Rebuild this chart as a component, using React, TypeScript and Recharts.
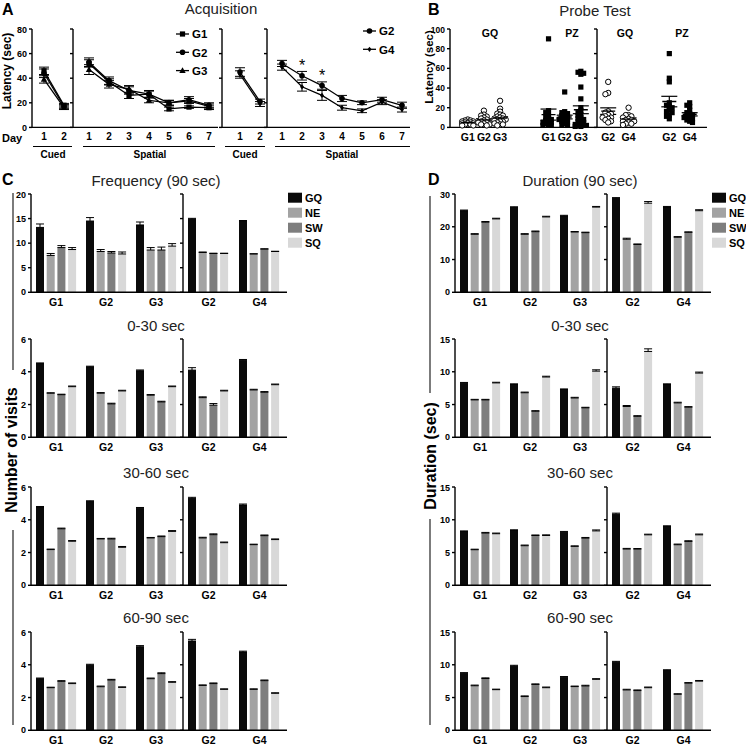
import React from 'react';
import {
  LineChart, Line, BarChart, Bar, ScatterChart, Scatter,
  XAxis, YAxis, ErrorBar, LabelList,
} from 'recharts';

const FONT = '"Liberation Sans", Arial, Helvetica, sans-serif';

// ---------- A: acquisition latency ----------
const cuedDays = [1, 2];
const spatialDays = [1, 2, 3, 4, 5, 6, 7];

const cuedG1 = [46, 18];
const cuedG1Err = [3, 1.5];
const cuedG2 = [44, 17];
const cuedG2Err = [3.5, 1.5];
const cuedG3 = [39, 16];
const cuedG3Err = [3, 1.5];

const spatialG1 = [52, 37, 26, 27, 15, 16.5, 16];
const spatialG1Err = [3, 2.5, 2.5, 2.5, 1.5, 1, 1.5];
const spatialG2 = [53, 38, 30, 27, 20, 22.5, 18];
const spatialG2Err = [3.5, 3, 3, 3, 2, 2.5, 2];
const spatialG3 = [47, 35, 31, 22, 20, 21.5, 17];
const spatialG3Err = [4, 3, 3, 2, 2, 2, 2];

const cuedG2b = [45, 21];
const cuedG2bErr = [3.5, 2];
const cuedG4 = [43, 19];
const cuedG4Err = [3, 2];

const spatialG2b = [52, 42, 34, 23.5, 20, 22.5, 18];
const spatialG2bErr = [2.5, 3.5, 3, 2.5, 1.5, 2, 2.5];
const spatialG4 = [49, 33, 26, 16, 13.5, 20.5, 14.5];
const spatialG4Err = [2.5, 3.5, 4, 2, 1.5, 2, 2];
const spatialSig = ['', '*', '*', '', '', '', ''];

// ---------- B: probe test latency ----------
const probeLeftLabels = ['G1', 'G2', 'G3', 'G1', 'G2', 'G3'];
const probeLeftSlots = [1, 2, 3, 6, 7, 8];
const probeRightLabels = ['G2', 'G4', 'G2', 'G4'];
const probeRightSlots = [1, 2, 4, 5];

const probeGqG1 = [8, 7, 7, 6, 6, 5, 5, 5, 4, 4, 4, 3, 3, 2, 2];
const probeGqG2 = [17, 13, 12, 11, 10, 9, 8, 7, 6, 5, 5, 4, 3, 3, 2];
const probeGqG3 = [27, 19, 16, 14, 13, 12, 11, 10, 9, 9, 8, 8, 7, 7, 6, 6, 5, 4, 3, 3, 2];
const probePzG1 = [90, 17, 15, 12, 10, 9, 8, 7, 6, 5, 5, 4, 3, 2, 2];
const probePzG2 = [36, 16, 15, 14, 13, 12, 11, 10, 9, 8, 8, 7, 6, 5, 4, 3, 2];
const probePzG3 = [57, 56, 55, 54, 41, 29, 20, 17, 15, 13, 12, 10, 9, 8, 7, 6, 5, 4, 3, 3, 2, 2, 1, 1];

const probeGqG2b = [37, 28, 27, 13, 12, 11, 10, 9, 8, 8, 7, 6, 5, 4];
const probeGqG4 = [16, 10, 10, 9, 8, 7, 6, 6, 5, 5, 4, 3, 3, 2];
const probePzG2b = [60, 40, 37, 20, 18, 17, 16, 14, 13, 12, 10, 9, 7];
const probePzG4 = [20, 18, 17, 14, 12, 11, 10, 9, 8, 8, 7, 6, 5, 4];

// ---------- C / D: zone visits and durations ----------
const ZONES = ['GQ', 'NE', 'SW', 'SQ'];
const ZONE_COLORS = ['#0a0a0a', '#a3a3a3', '#7e7e7e', '#d8d8d8'];
const leftGroups = ['G1', 'G2', 'G3'];
const rightGroups = ['G2', 'G4'];

// rows: GQ, NE, SW, SQ ; cols: G1 G2 G3 | G2 G4
const freq90 = [
  [13.2, 14.5, 13.7, 14.9, 14.5],
  [7.5, 8.3, 8.6, 8.1, 7.8],
  [9.1, 8.0, 8.6, 7.9, 8.8],
  [8.7, 7.8, 9.4, 7.9, 8.3],
];
const freq90Err = [
  [0.7, 0.7, 0.6, 0.15, 0.1],
  [0.4, 0.4, 0.5, 0.1, 0.05],
  [0.4, 0.3, 0.6, 0.05, 0.05],
  [0.4, 0.4, 0.5, 0.05, 0.05],
];
const freq0to30 = [
  [4.5, 4.3, 4.06, 4.1, 4.7],
  [2.69, 2.69, 2.57, 2.42, 2.89],
  [2.6, 2.04, 2.16, 1.96, 2.75],
  [3.09, 2.83, 3.09, 2.83, 3.21],
];
const freq0to30Err = [
  [0.04, 0.04, 0.05, 0.15, 0.05],
  [0.03, 0.04, 0.04, 0.05, 0.04],
  [0.03, 0.04, 0.04, 0.1, 0.04],
  [0.04, 0.04, 0.04, 0.04, 0.04],
];
const freq30to60 = [
  [4.75, 5.11, 4.71, 5.31, 4.9],
  [2.18, 2.83, 2.89, 2.89, 2.48],
  [3.45, 2.83, 2.97, 3.09, 3.03],
  [2.69, 2.32, 3.29, 2.6, 2.79],
];
const freq30to60Err = [
  [0.06, 0.05, 0.04, 0.06, 0.06],
  [0.03, 0.03, 0.03, 0.04, 0.03],
  [0.04, 0.04, 0.04, 0.05, 0.04],
  [0.04, 0.05, 0.05, 0.04, 0.04],
];
const freq60to90 = [
  [3.15, 3.98, 5.1, 5.45, 4.78],
  [2.6, 2.66, 3.15, 2.74, 2.5],
  [2.99, 3.07, 3.46, 2.85, 3.03],
  [2.85, 2.62, 2.93, 2.5, 2.26],
];
const freq60to90Err = [
  [0.04, 0.05, 0.07, 0.1, 0.05],
  [0.03, 0.04, 0.04, 0.03, 0.03],
  [0.04, 0.04, 0.05, 0.04, 0.04],
  [0.04, 0.03, 0.04, 0.03, 0.03],
];
const dur90 = [
  [24.9, 25.9, 23.3, 28.6, 26.0],
  [17.7, 17.7, 18.4, 16.2, 16.8],
  [21.4, 18.5, 18.2, 14.6, 18.3],
  [22.4, 23.0, 26.0, 27.2, 24.9],
];
const dur90Err = [
  [0.2, 0.2, 0.2, 0.3, 0.2],
  [0.2, 0.2, 0.15, 0.3, 0.2],
  [0.2, 0.2, 0.15, 0.15, 0.15],
  [0.2, 0.2, 0.2, 0.5, 0.3],
];
const dur0to30 = [
  [8.27, 8.06, 7.3, 7.5, 8.06],
  [5.71, 6.8, 6.0, 4.7, 5.25],
  [5.71, 3.98, 4.5, 3.2, 4.6],
  [8.3, 9.2, 10.1, 13.1, 9.8],
];
const dur0to30Err = [
  [0.1, 0.1, 0.08, 0.2, 0.1],
  [0.08, 0.1, 0.1, 0.15, 0.1],
  [0.08, 0.08, 0.08, 0.1, 0.08],
  [0.1, 0.12, 0.2, 0.4, 0.15],
];
const dur30to60 = [
  [8.2, 8.37, 8.12, 10.86, 8.98],
  [5.43, 6.04, 5.94, 5.53, 6.19],
  [7.97, 7.6, 7.2, 5.53, 6.7],
  [7.87, 7.6, 8.3, 7.7, 7.7],
];
const dur30to60Err = [
  [0.1, 0.1, 0.1, 0.15, 0.1],
  [0.08, 0.1, 0.08, 0.1, 0.1],
  [0.1, 0.08, 0.1, 0.08, 0.1],
  [0.1, 0.1, 0.15, 0.1, 0.12],
];
const dur60to90 = [
  [8.7, 9.8, 8.1, 10.4, 9.14],
  [6.8, 5.15, 6.67, 6.16, 5.5],
  [7.9, 7.0, 6.77, 6.06, 7.2],
  [6.2, 6.5, 7.78, 6.5, 7.5],
];
const dur60to90Err = [
  [0.1, 0.12, 0.1, 0.12, 0.1],
  [0.1, 0.1, 0.08, 0.1, 0.08],
  [0.1, 0.08, 0.1, 0.1, 0.08],
  [0.08, 0.1, 0.1, 0.1, 0.1],
];

// ---------- shared styling / layout helpers ----------
const AX = { stroke: '#000', strokeWidth: 1.4 };
const tickNum = { fontSize: 9, fontWeight: 700, fill: '#000', fontFamily: FONT };
const tickCat = { fontSize: 10.5, fontWeight: 700, fill: '#000', fontFamily: FONT };
const YW = 24;
const XH = 18;
const PAD = 4;
const blank = () => '';

function frame(x: number, y: number, w: number, h: number) {
  return {
    style: { position: 'absolute' as const, left: x - YW, top: y - PAD },
    size: {
      width: YW + w + PAD,
      height: PAD + h + XH,
      margin: { top: PAD, right: PAD, left: 0, bottom: 0 },
    },
  };
}

function Marker({ shape, cx, cy }: { shape: string; cx: number; cy: number }) {
  if (shape === 'square') return <rect x={cx - 2.6} y={cy - 2.6} width={5.2} height={5.2} fill="#000" />;
  if (shape === 'circle') return <circle cx={cx} cy={cy} r={2.8} fill="#000" />;
  if (shape === 'triangle')
    return <path d={`M${cx},${cy - 3.4}L${cx + 3.2},${cy + 2.3}L${cx - 3.2},${cy + 2.3}Z`} fill="#000" />;
  return <path d={`M${cx},${cy - 2.6}L${cx + 2},${cy}L${cx},${cy + 2.6}L${cx - 2},${cy}Z`} fill="#000" />;
}

const dotOf = (shape: string) => (p: any) => (
  <Marker key={`${shape}-${p.index}`} shape={shape} cx={p.cx} cy={p.cy} />
);

type Series = { key: string; vals: number[]; errs: number[]; shape: string; sig?: string[] };

function acqRows(days: number[], series: Series[]) {
  return days.map((d, i) => {
    const r: Record<string, unknown> = { day: d };
    series.forEach((s) => {
      r[s.key] = s.vals[i];
      r[s.key + 'e'] = s.errs[i];
      if (s.sig) r.sig = s.sig[i];
    });
    return r;
  });
}

function AcqChart({ x, w, days, domain, series, showY }: {
  x: number; w: number; days: number[]; domain: [number, number]; series: Series[]; showY?: boolean;
}) {
  const f = frame(x, 29.3, w, 98.4);
  const data = acqRows(days, series);
  return (
    <div style={f.style}>
      <LineChart {...f.size} data={data}>
        <XAxis dataKey="day" type="number" domain={domain} ticks={days} allowDataOverflow interval={0}
          tickLine={false} tickSize={4} axisLine={AX} tick={{ ...tickNum, fontSize: 10 }} height={XH} />
        <YAxis type="number" domain={[0, 80]} ticks={[0, 20, 40, 60, 80]} width={YW} axisLine={AX}
          tickLine={AX} tickSize={3} tick={tickNum} tickFormatter={showY ? undefined : blank} />
        {series.map((s) => (
          <Line key={s.key} dataKey={s.key} stroke="#000" strokeWidth={1.3} dot={dotOf(s.shape)}
            activeDot={false} isAnimationActive={false}>
            <ErrorBar dataKey={s.key + 'e'} width={5} stroke="#000" strokeWidth={1} />
            {s.sig && (
              <LabelList dataKey="sig" content={(p: any) => (p.value ? (
                <text x={p.x} y={p.y - 5} textAnchor="middle" fontSize={16} fontFamily={FONT} fill="#000">{p.value}</text>
              ) : null)} />
            )}
          </Line>
        ))}
      </LineChart>
    </div>
  );
}

// simple beeswarm: horizontal offsets (px) so that close values do not sit on top of each other
function swarm(vals: number[], pxPerUnit: number) {
  const placed: { y: number; dx: number }[] = [];
  const cand = [0, -2.8, 2.8, -5.6, 5.6];
  return vals.map((v, i) => {
    const y = v * pxPerUnit;
    const dx = cand.find((c) => placed.every((p) => Math.hypot(p.dx - c, p.y - y) >= 2.8))
      ?? cand[i % cand.length];
    placed.push({ y, dx });
    return dx;
  });
}

type ProbeCol = { slot: number; label: string; vals: number[]; kind: 'GQ' | 'PZ' };

function ProbeChart({ x, w, cols, domain, yMax, yTicks, pxPerUnit, showY }: {
  x: number; w: number; cols: ProbeCol[]; domain: [number, number]; yMax: number; yTicks: number[];
  pxPerUnit: number; showY?: boolean;
}) {
  const f = frame(x, 29.3, w, 98.4);
  const pts = (kind: string) => cols.filter((c) => c.kind === kind).flatMap((c) => {
    const dxs = swarm(c.vals, pxPerUnit);
    return c.vals.map((v, i) => ({ x: c.slot, y: v, dx: dxs[i] }));
  });
  const means = cols.map((c) => {
    const n = c.vals.length;
    const m = c.vals.reduce((a, b) => a + b, 0) / n;
    const sd = Math.sqrt(c.vals.reduce((a, b) => a + (b - m) * (b - m), 0) / (n - 1));
    return { x: c.slot, y: m, sem: sd / Math.sqrt(n) };
  });
  return (
    <div style={f.style}>
      <ScatterChart {...f.size}>
        <XAxis type="number" dataKey="x" domain={domain} ticks={cols.map((c) => c.slot)} allowDataOverflow interval={0}
          tickFormatter={(v: number) => cols.find((c) => c.slot === v)?.label ?? ''}
          tickLine={false} tickSize={4} axisLine={AX} tick={tickCat} height={XH} />
        <YAxis type="number" dataKey="y" domain={[0, yMax]} ticks={yTicks} width={YW} axisLine={AX}
          tickLine={AX} tickSize={3} tick={{ ...tickNum, fontSize: 8.5 }} tickFormatter={showY ? undefined : blank} />
        <Scatter data={pts('GQ')} isAnimationActive={false}
          shape={(p: any) => <circle cx={p.cx + p.payload.dx} cy={p.cy} r={2.7} fill="#fff" stroke="#000" strokeWidth={1} />} />
        <Scatter data={pts('PZ')} isAnimationActive={false}
          shape={(p: any) => <rect x={p.cx + p.payload.dx - 2.6} y={p.cy - 2.6} width={5.2} height={5.2} fill="#000" />} />
        <Scatter data={means} isAnimationActive={false}
          shape={(p: any) => <line x1={p.cx - 7} x2={p.cx + 7} y1={p.cy} y2={p.cy} stroke="#000" strokeWidth={1.4} />}>
          <ErrorBar dataKey="sem" direction="y" width={8} stroke="#000" strokeWidth={1.2} />
        </Scatter>
      </ScatterChart>
    </div>
  );
}

function zoneRows(vals: number[][], errs: number[][], groups: string[], offset: number) {
  return groups.map((g, i) => {
    const r: Record<string, unknown> = { g };
    ZONES.forEach((z, k) => {
      r[z] = vals[k][offset + i];
      r[z + 'e'] = [0, errs[k][offset + i]];
    });
    return r;
  });
}

function ZoneChart({ x, y, w, rows, max, ticks, showY }: {
  x: number; y: number; w: number; rows: Record<string, unknown>[]; max: number; ticks: number[]; showY?: boolean;
}) {
  const f = frame(x, y, w, 98.3);
  return (
    <div style={f.style}>
      <BarChart {...f.size} data={rows} barSize={8} barGap={2.7}>
        <XAxis dataKey="g" tickLine={false} tickSize={4} axisLine={AX} tick={tickCat} height={XH}
          padding={{ left: 0, right: 2 }} interval={0} />
        <YAxis type="number" domain={[0, max]} ticks={ticks} width={YW} axisLine={AX} tickLine={AX}
          tickSize={3} tick={tickNum} tickFormatter={showY ? undefined : blank} />
        {ZONES.map((z, k) => (
          <Bar key={z} dataKey={z} fill={ZONE_COLORS[k]} isAnimationActive={false}>
            <ErrorBar dataKey={z + 'e'} width={4} stroke="#000" strokeWidth={1} />
          </Bar>
        ))}
      </BarChart>
    </div>
  );
}

function ZonePair({ x, y, vals, errs, max, ticks }: {
  x: number; y: number; vals: number[][]; errs: number[][]; max: number; ticks: number[];
}) {
  return (
    <>
      <ZoneChart x={x} y={y} w={152} rows={zoneRows(vals, errs, leftGroups, 0)} max={max} ticks={ticks} showY />
      <ZoneChart x={x + 152} y={y} w={104} rows={zoneRows(vals, errs, rightGroups, 3)} max={max} ticks={ticks} />
    </>
  );
}

const rowTops = [194, 339.3, 487.3, 631.7];
const rowTitleY = [186, 331, 478, 623];

const freqRows = [
  { title: 'Frequency (90 sec)', vals: freq90, errs: freq90Err, max: 20, ticks: [0, 5, 10, 15, 20] },
  { title: '0-30 sec', vals: freq0to30, errs: freq0to30Err, max: 6, ticks: [0, 2, 4, 6] },
  { title: '30-60 sec', vals: freq30to60, errs: freq30to60Err, max: 6, ticks: [0, 2, 4, 6] },
  { title: '60-90 sec', vals: freq60to90, errs: freq60to90Err, max: 6, ticks: [0, 2, 4, 6] },
];
const durRows = [
  { title: 'Duration (90 sec)', vals: dur90, errs: dur90Err, max: 30, ticks: [0, 10, 20, 30] },
  { title: '0-30 sec', vals: dur0to30, errs: dur0to30Err, max: 15, ticks: [0, 5, 10, 15] },
  { title: '30-60 sec', vals: dur30to60, errs: dur30to60Err, max: 15, ticks: [0, 5, 10, 15] },
  { title: '60-90 sec', vals: dur60to90, errs: dur60to90Err, max: 15, ticks: [0, 5, 10, 15] },
];

function ZoneLegend({ x }: { x: number }) {
  return (
    <g>
      {ZONES.map((z, k) => (
        <g key={z}>
          <rect x={x} y={192.7 + k * 15} width={14} height={10} fill={ZONE_COLORS[k]} />
          <text x={x + 17} y={201.7 + k * 15} fontSize={11} fontWeight={700}>{z}</text>
        </g>
      ))}
    </g>
  );
}

function AcqLegend({ x, y, items }: { x: number; y: number; items: [string, string][] }) {
  return (
    <g>
      {items.map(([name, shape], i) => {
        const cy = y + i * 18.3;
        return (
          <g key={name}>
            <line x1={x} x2={x + 13} y1={cy} y2={cy} stroke="#000" strokeWidth={1.3} />
            <Marker shape={shape} cx={x + 6.5} cy={cy} />
            <text x={x + 16} y={cy + 4.3} fontSize={11.5} fontWeight={700}>{name}</text>
          </g>
        );
      })}
    </g>
  );
}

function VLabel({ x, y, text, size }: { x: number; y: number; text: string; size: number }) {
  return (
    <text transform={`translate(${x + size * 0.36},${y}) rotate(-90)`} textAnchor="middle" fontSize={size} fontWeight={700}>
      {text}
    </text>
  );
}

export default function App() {
  const cued123: Series[] = [
    { key: 'G1', vals: cuedG1, errs: cuedG1Err, shape: 'square' },
    { key: 'G2', vals: cuedG2, errs: cuedG2Err, shape: 'circle' },
    { key: 'G3', vals: cuedG3, errs: cuedG3Err, shape: 'triangle' },
  ];
  const spatial123: Series[] = [
    { key: 'G1', vals: spatialG1, errs: spatialG1Err, shape: 'square' },
    { key: 'G2', vals: spatialG2, errs: spatialG2Err, shape: 'circle' },
    { key: 'G3', vals: spatialG3, errs: spatialG3Err, shape: 'triangle' },
  ];
  const cued24: Series[] = [
    { key: 'G2', vals: cuedG2b, errs: cuedG2bErr, shape: 'circle' },
    { key: 'G4', vals: cuedG4, errs: cuedG4Err, shape: 'diamond' },
  ];
  const spatial24: Series[] = [
    { key: 'G4', vals: spatialG4, errs: spatialG4Err, shape: 'diamond' },
    { key: 'G2', vals: spatialG2b, errs: spatialG2bErr, shape: 'circle', sig: spatialSig },
  ];

  const leftVals = [probeGqG1, probeGqG2, probeGqG3, probePzG1, probePzG2, probePzG3];
  const probeLeft: ProbeCol[] = leftVals.map((v, i) => ({
    slot: probeLeftSlots[i], label: probeLeftLabels[i], vals: v, kind: i < 3 ? 'GQ' : 'PZ',
  }));
  const rightVals = [probeGqG2b, probeGqG4, probePzG2b, probePzG4];
  const probeRight: ProbeCol[] = rightVals.map((v, i) => ({
    slot: probeRightSlots[i], label: probeRightLabels[i], vals: v, kind: i < 2 ? 'GQ' : 'PZ',
  }));

  return (
    <div style={{ position: 'absolute', left: 0, top: 0, width: 746, height: 745, background: '#fff', fontFamily: FONT, overflow: 'hidden' }}>
      <AcqChart x={32} w={40} days={cuedDays} domain={[0.4, 2.4]} series={cued123} showY />
      <AcqChart x={73} w={145} days={spatialDays} domain={[0.2, 7.45]} series={spatial123} />
      <AcqChart x={222} w={45} days={cuedDays} domain={[0.1, 2.35]} series={cued24} />
      <AcqChart x={267} w={143} days={spatialDays} domain={[0.25, 7.4]} series={spatial24} />

      <ProbeChart x={450} w={147} cols={probeLeft} domain={[-0.1, 9]} yMax={100}
        yTicks={[0, 20, 40, 60, 80, 100]} pxPerUnit={0.984} showY />
      <ProbeChart x={597} w={110} cols={probeRight} domain={[0.45, 5.85]} yMax={80}
        yTicks={[0, 20, 40, 60, 80]} pxPerUnit={1.23} />

      {freqRows.map((r, i) => (
        <ZonePair key={'f' + i} x={31} y={rowTops[i]} vals={r.vals} errs={r.errs} max={r.max} ticks={r.ticks} />
      ))}
      {durRows.map((r, i) => (
        <ZonePair key={'d' + i} x={455} y={rowTops[i]} vals={r.vals} errs={r.errs} max={r.max} ticks={r.ticks} />
      ))}

      <svg width={746} height={745} style={{ position: 'absolute', left: 0, top: 0, pointerEvents: 'none' }}
        fontFamily={FONT} fill="#000">
        <text x={2} y={15} fontSize={16} fontWeight={700}>A</text>
        <text x={428} y={15} fontSize={16} fontWeight={700}>B</text>
        <text x={2} y={185} fontSize={16} fontWeight={700}>C</text>
        <text x={428} y={185} fontSize={16} fontWeight={700}>D</text>

        <text x={221} y={14} fontSize={15} textAnchor="middle" fill="#222">Acquisition</text>
        <text x={595} y={16} fontSize={15} textAnchor="middle" fill="#222">Probe Test</text>

        <VLabel x={6.5} y={71} text="Latency (sec)" size={12} />
        <VLabel x={428.5} y={67} text="Latency (sec)" size={11.5} />

        <text x={2} y={141.5} fontSize={11} fontWeight={700}>Day</text>
        <line x1={33} x2={72} y1={146.5} y2={146.5} stroke="#000" strokeWidth={1} />
        <line x1={83} x2={215} y1={146.5} y2={146.5} stroke="#000" strokeWidth={1} />
        <line x1={225} x2={265} y1={146.5} y2={146.5} stroke="#000" strokeWidth={1} />
        <line x1={275} x2={410} y1={146.5} y2={146.5} stroke="#000" strokeWidth={1} />
        <text x={53} y={158} fontSize={10} fontWeight={700} textAnchor="middle">Cued</text>
        <text x={150} y={158} fontSize={10} fontWeight={700} textAnchor="middle">Spatial</text>
        <text x={245} y={158} fontSize={10} fontWeight={700} textAnchor="middle">Cued</text>
        <text x={342} y={158} fontSize={10} fontWeight={700} textAnchor="middle">Spatial</text>

        <AcqLegend x={176} y={34} items={[['G1', 'square'], ['G2', 'circle'], ['G3', 'triangle']]} />
        <AcqLegend x={363} y={31} items={[['G2', 'circle'], ['G4', 'diamond']]} />

        <text x={490} y={37} fontSize={10.5} fontWeight={700} textAnchor="middle">GQ</text>
        <text x={572} y={37} fontSize={10.5} fontWeight={700} textAnchor="middle">PZ</text>
        <text x={625} y={37} fontSize={10.5} fontWeight={700} textAnchor="middle">GQ</text>
        <text x={682} y={37} fontSize={10.5} fontWeight={700} textAnchor="middle">PZ</text>

        {freqRows.map((r, i) => (
          <text key={'ft' + i} x={156} y={rowTitleY[i]} fontSize={15} textAnchor="middle" fill="#222">{r.title}</text>
        ))}
        {durRows.map((r, i) => (
          <text key={'dt' + i} x={580} y={rowTitleY[i]} fontSize={15} textAnchor="middle" fill="#222">{r.title}</text>
        ))}

        <ZoneLegend x={288} />
        <ZoneLegend x={712} />

        <line x1={13} x2={13} y1={193} y2={370} stroke="#444" strokeWidth={1.4} />
        <line x1={13} x2={13} y1={530} y2={725} stroke="#444" strokeWidth={1.4} />
        <VLabel x={11} y={450} text="Number of visits" size={16} />
        <line x1={430} x2={430} y1={196} y2={393} stroke="#444" strokeWidth={1.4} />
        <line x1={430} x2={430} y1={519} y2={725} stroke="#444" strokeWidth={1.4} />
        <VLabel x={430} y={456} text="Duration (sec)" size={16} />
      </svg>
    </div>
  );
}
